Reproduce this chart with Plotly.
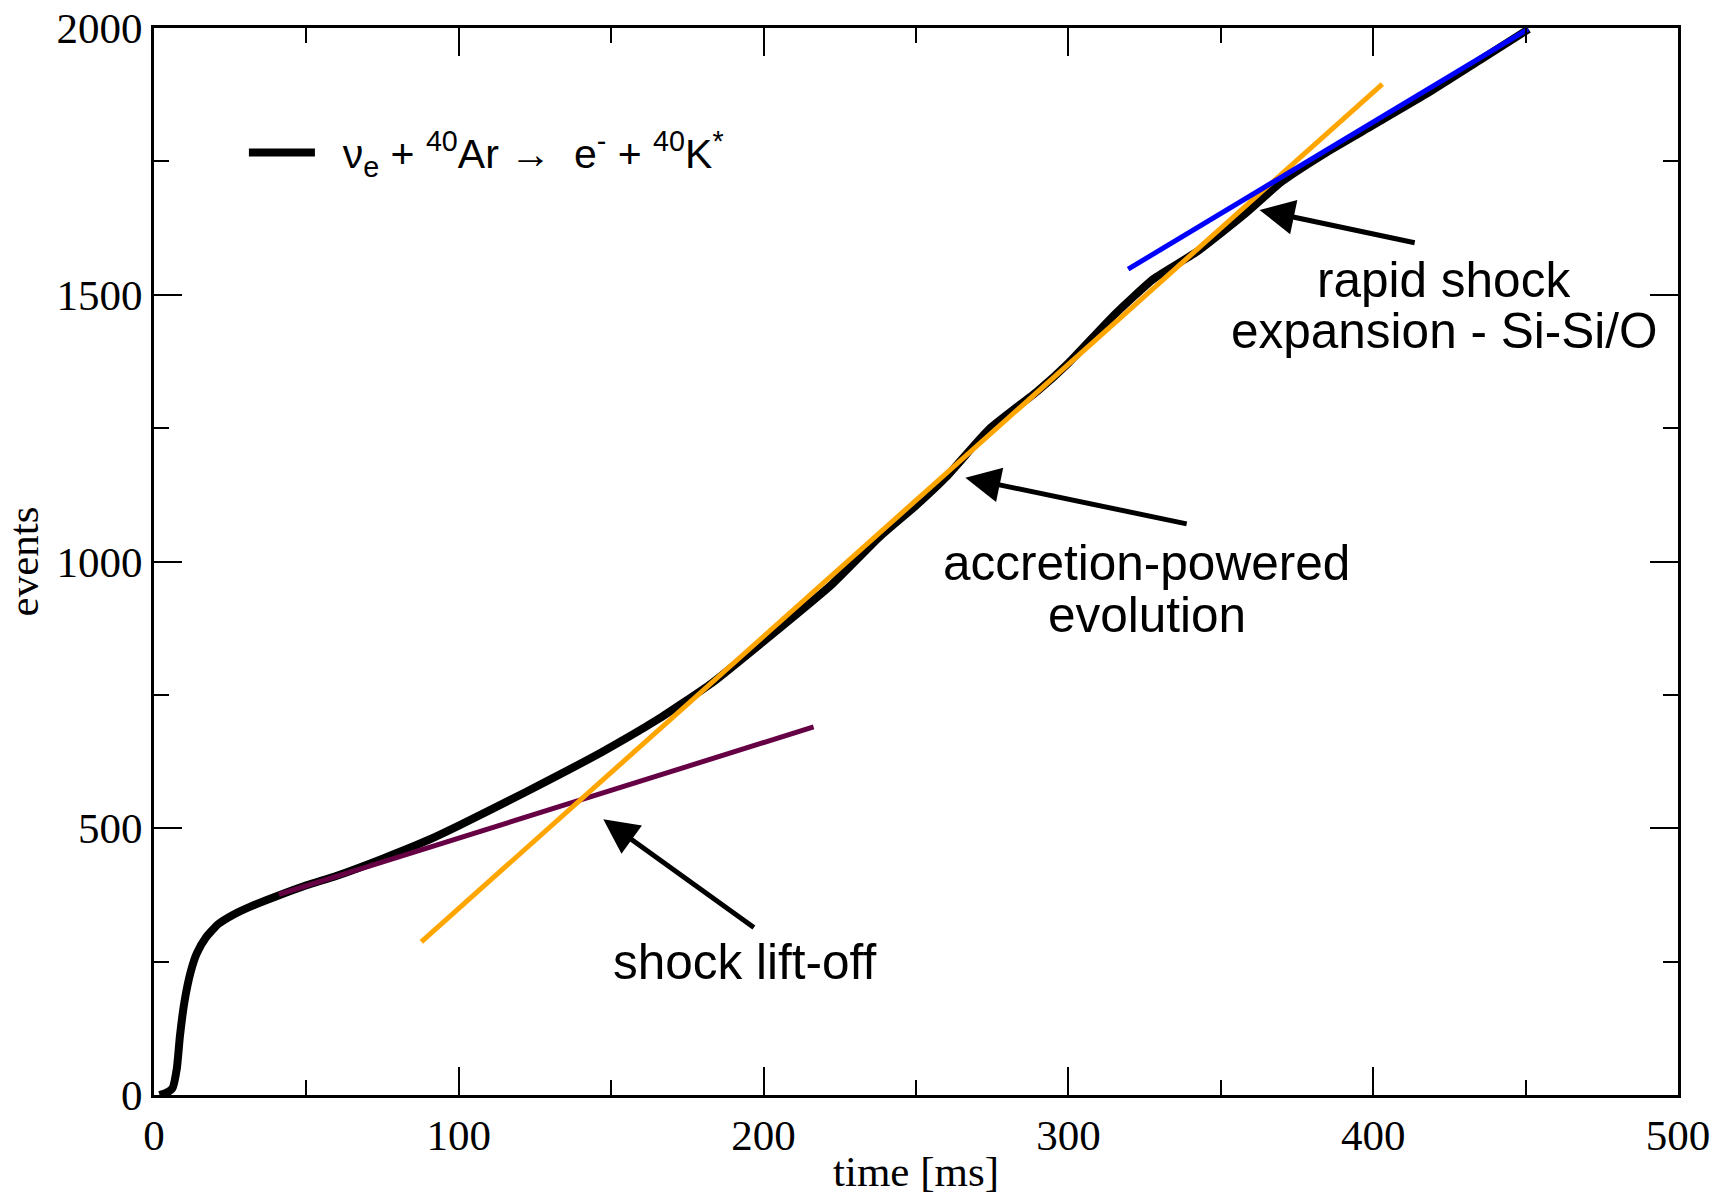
import plotly.graph_objects as go

# ---- data ----
time_ms = [1.8, 4, 6, 7.5, 8.5, 10, 12, 14, 17, 21, 26, 32, 40, 50, 60, 75, 90, 100, 122, 147,
           165, 183, 201, 222, 238, 250, 260, 274, 290, 300, 315, 328, 342, 358, 370, 385, 400,
           417, 435, 451]
events = [0, 4, 12, 50, 110, 175, 230, 265, 295, 320, 338, 354, 372, 393, 411, 443, 478, 505,
          568, 643, 703, 772, 855, 955, 1046, 1105, 1159, 1248, 1320, 1372, 1462, 1530, 1580,
          1652, 1712, 1768, 1818, 1875, 1940, 1998]

liftoff_t = [41, 216.4]
liftoff_ev = [376, 690]
accretion_t = [87.7, 403]
accretion_ev = [287, 1895]
expansion_t = [319.6, 450.8]
expansion_ev = [1548, 1998]

legend_label = ("\u00a0\u00a0ν<sub>e</sub> + <sup>40</sup>Ar →\u00a0\u00a0e<sup>-</sup> + "
                "<sup>40</sup>K<sup>*</sup>")

# text lines of the annotations
label_lines = ["rapid shock", "expansion - Si-Si/O", "accretion-powered", "evolution",
               "shock lift-off"]
label_x = [423.1, 423.1, 325.7, 325.7, 193.7]
label_y = [1528, 1433, 998, 900, 250]

# arrows (tail -> head)
arrow_tail_x = [414.1, 339.3, 197.3]
arrow_tail_y = [1597, 1070, 312]
arrow_head_x = [362.7, 266.2, 147.4]
arrow_head_y = [1659, 1157, 517]

x_ticks = [0, 100, 200, 300, 400, 500]
y_ticks = [0, 500, 1000, 1500, 2000]

SERIF = "Liberation Serif, Times New Roman, serif"
SANS = "Liberation Sans, Arial, sans-serif"

fig = go.Figure()
fig.add_trace(go.Scatter(x=time_ms, y=events, mode="lines", name=legend_label,
                         line=dict(color="black", width=8, shape="spline", smoothing=0.5)))
fig.add_trace(go.Scatter(x=liftoff_t, y=liftoff_ev, mode="lines", showlegend=False,
                         line=dict(color="#660044", width=5)))
fig.add_trace(go.Scatter(x=accretion_t, y=accretion_ev, mode="lines", showlegend=False,
                         line=dict(color="#FFA500", width=5)))
fig.add_trace(go.Scatter(x=expansion_t, y=expansion_ev, mode="lines", showlegend=False,
                         line=dict(color="#0000FF", width=5)))

annotations = []
for i in range(len(arrow_tail_x)):
    annotations.append(dict(x=arrow_head_x[i], y=arrow_head_y[i], xref="x", yref="y",
                            ax=arrow_tail_x[i], ay=arrow_tail_y[i], axref="x", ayref="y",
                            text="", showarrow=True, arrowhead=2, arrowsize=1.4,
                            arrowwidth=5, arrowcolor="black", standoff=0, startstandoff=0))
for i in range(len(label_lines)):
    annotations.append(dict(x=label_x[i], y=label_y[i], xref="x", yref="y",
                            text=label_lines[i], showarrow=False, align="center",
                            xanchor="center", yanchor="middle",
                            font=dict(family=SANS, size=49.5, color="black")))

axis_common = dict(showgrid=False, zeroline=False, showline=True, linecolor="black",
                   linewidth=3, mirror="allticks", ticks="inside", ticklen=28, tickwidth=2,
                   tickcolor="black", automargin=False,
                   tickfont=dict(family=SERIF, size=43, color="black"))

fig.update_xaxes(range=[0, 500], tickvals=x_ticks,
                 minor=dict(dtick=50, ticks="inside", ticklen=15, tickwidth=2, tickcolor="black"),
                 title=dict(text="time [ms]", standoff=4,
                            font=dict(family=SERIF, size=43, color="black")),
                 **axis_common)
fig.update_yaxes(range=[0, 2000], tickvals=y_ticks,
                 minor=dict(dtick=250, ticks="inside", ticklen=15, tickwidth=2, tickcolor="black"),
                 title=dict(text="events", standoff=16,
                            font=dict(family=SERIF, size=43, color="black")),
                 **axis_common)

fig.update_layout(
    width=1717, height=1195,
    margin=dict(l=154, r=39, t=28, b=100),
    paper_bgcolor="white", plot_bgcolor="white",
    showlegend=True,
    legend=dict(x=0.059, y=0.883, xanchor="left", yanchor="middle", bgcolor="rgba(0,0,0,0)",
                itemwidth=66,
                font=dict(family=SANS, size=41, color="black")),
    annotations=annotations,
)

fig.write_html("out.html")
